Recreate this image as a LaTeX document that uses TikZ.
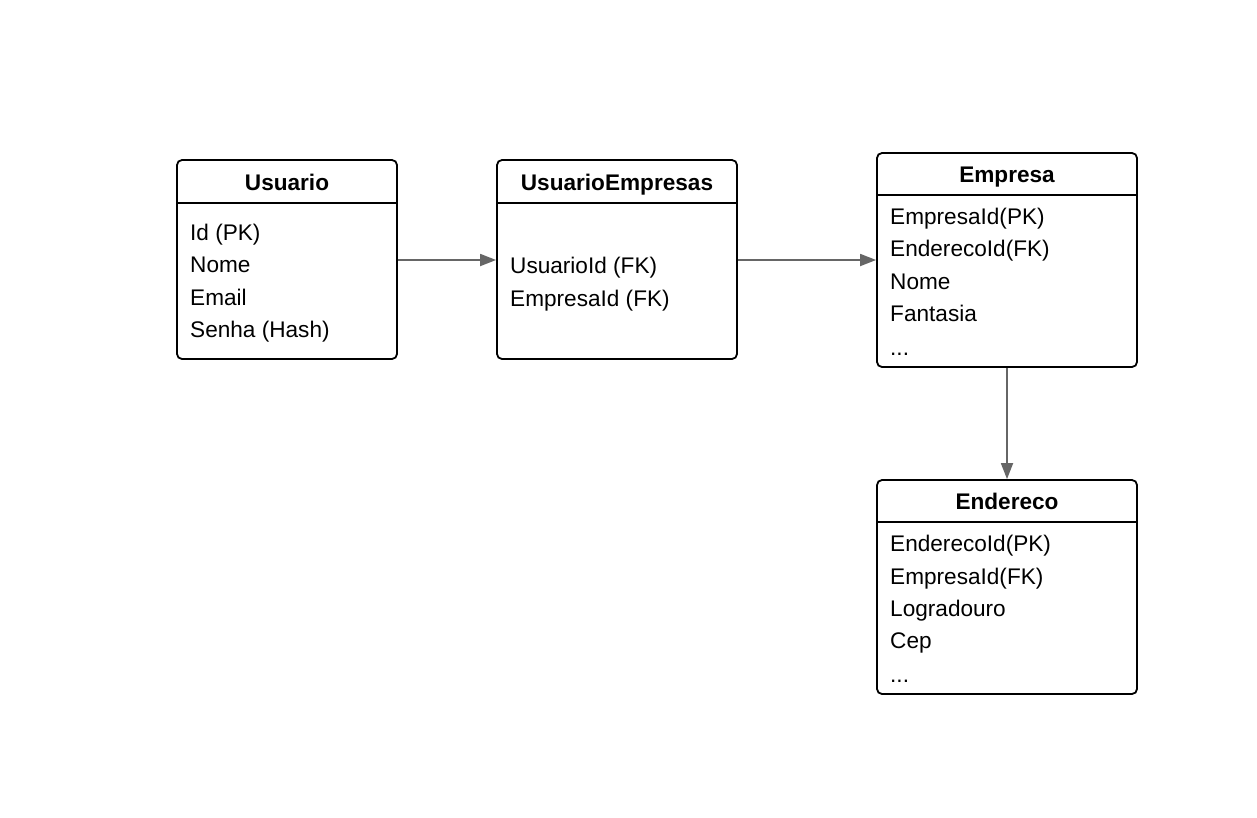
\documentclass[tikz,border=0pt]{standalone}
\usepackage{fontspec}
\setmainfont{Liberation Sans}
\usetikzlibrary{arrows.meta}
\definecolor{arrgray}{HTML}{666666}
\tikzset{
  x=1pt, y=-1pt,
  tbl/.style={draw=black, line width=1.8pt, rounded corners=5pt, inner sep=0pt, fill=white},
  ttl/.style={anchor=base, font=\fontsize{22.6}{26}\selectfont\bfseries, inner sep=0pt},
  fld/.style={anchor=base west, font=\fontsize{22.6}{26}\selectfont, inner sep=0pt},
  hdr/.style={line width=1.8pt},
  rel/.style={draw=arrgray, line width=1.8pt, -{Triangle[length=16pt,width=12pt]}}
}
\begin{document}
\begin{tikzpicture}
\useasboundingbox[fill=white] (0,0) rectangle (1257,817);
% Usuario
\node[tbl, minimum width=220pt, minimum height=199pt] (usuario) at (287,259.5) {};
\draw[hdr] (usuario.west |- 0,203) -- (usuario.east |- 0,203);
\node[ttl] (usuarioT) at (287,190) {Usuario};
\node[fld] (u1) at (190,240) {Id (PK)};
\node[fld] (u2) at (190,272.5) {Nome};
\node[fld] (u3) at (190,305) {Email};
\node[fld] (u4) at (190,337.5) {Senha (Hash)};
% UsuarioEmpresas
\node[tbl, minimum width=240pt, minimum height=199pt] (ue) at (617,259.5) {};
\draw[hdr] (ue.west |- 0,203) -- (ue.east |- 0,203);
\node[ttl] (ueT) at (617,190) {UsuarioEmpresas};
\node[fld] (ue1) at (510,273.5) {UsuarioId (FK)};
\node[fld] (ue2) at (510,306) {EmpresaId (FK)};
% Empresa
\node[tbl, minimum width=260pt, minimum height=214pt] (emp) at (1007,260) {};
\draw[hdr] (emp.west |- 0,195) -- (emp.east |- 0,195);
\node[ttl] (empT) at (1007,182) {Empresa};
\node[fld] (e1) at (890,224) {EmpresaId(PK)};
\node[fld] (e2) at (890,256.5) {EnderecoId(FK)};
\node[fld] (e3) at (890,289) {Nome};
\node[fld] (e4) at (890,321) {Fantasia};
\node[fld] (e5) at (890,355) {...};
% Endereco
\node[tbl, minimum width=260pt, minimum height=214pt] (end) at (1007,587) {};
\draw[hdr] (end.west |- 0,522) -- (end.east |- 0,522);
\node[ttl] (endT) at (1007,509) {Endereco};
\node[fld] (d1) at (890,551.5) {EnderecoId(PK)};
\node[fld] (d2) at (890,584) {EmpresaId(FK)};
\node[fld] (d3) at (890,616.5) {Logradouro};
\node[fld] (d4) at (890,648.5) {Cep};
\node[fld] (d5) at (890,682) {...};
% relations
\draw[rel] (usuario.east |- 0,260) -- (ue.west |- 0,260);
\draw[rel] (ue.east |- 0,260) -- (emp.west |- 0,260);
\draw[rel] (emp.south) -- (end.north);
\end{tikzpicture}
\end{document}
